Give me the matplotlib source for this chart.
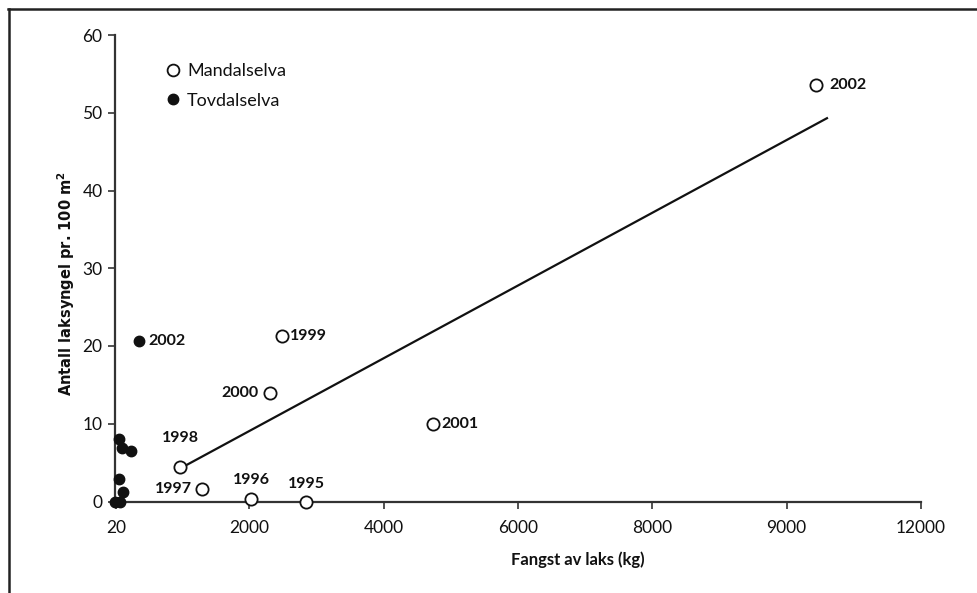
import matplotlib
matplotlib.use("Agg")
import matplotlib.pyplot as plt
from matplotlib.lines import Line2D

# Mandalselva: catch (kg) vs. salmon fry density per 100 m2
mandal_years = ["1995", "1996", "1997", "1998", "1999", "2000", "2001", "2002"]
mandal_catch = [2850, 2030, 1290, 970, 2480, 2310, 4730, 10440]
mandal_density = [0.0, 0.3, 1.6, 4.5, 21.3, 13.9, 10.0, 53.6]

# Tovdalselva
tovdal_catch = [60, 100, 240, 60, 124, 0, 75, 358]
tovdal_density = [8.1, 6.9, 6.5, 2.9, 1.2, 0.0, 0.0, 20.7]
tovdal_label_idx = 7
tovdal_label = "2002"

# Trend line for Mandalselva
trend_x = [1045, 10600]
trend_y = [4.6, 49.3]

x_ticks = [20, 2000, 4000, 6000, 8000, 10000, 12000]
x_ticklabels = ["20", "2000", "4000", "6000", "8000", "9000", "12000"]
y_ticks = [0, 10, 20, 30, 40, 50, 60]

# label placement (offset in pixels, horizontal alignment)
mandal_label_pos = {
    "1995": ((0, 18), "center"),
    "1996": ((0, 19), "center"),
    "1997": ((-10, 0), "right"),
    "1998": ((0, 29), "center"),
    "1999": ((8, 0), "left"),
    "2000": ((-12, 0), "right"),
    "2001": ((9, 0), "left"),
    "2002": ((13, 0), "left"),
}

W, H = 977, 593
fig = plt.figure(figsize=(W / 100, H / 100), dpi=100)
ax = fig.add_axes([115 / W, 1 - 501.5 / H, 806 / W, 466.5 / H])

ink = "#111111"
ax.plot(trend_x, trend_y, color=ink, lw=1.6, zorder=2)
ax.plot(tovdal_catch, tovdal_density, "o", ms=7.5, color=ink, mec=ink,
        clip_on=False, zorder=3)
ax.plot(mandal_catch, mandal_density, "o", ms=8.8, mfc="white", mec=ink,
        mew=1.3, clip_on=False, zorder=4)

lab_font = dict(family="Lato", fontsize=11.5, fontweight="bold", color=ink)
for yr, xv, yv in zip(mandal_years, mandal_catch, mandal_density):
    off, ha = mandal_label_pos[yr]
    ax.annotate(yr, (xv, yv), xytext=off, textcoords="offset pixels",
                ha=ha, va="center", **lab_font)
ax.annotate(tovdal_label, (tovdal_catch[tovdal_label_idx], tovdal_density[tovdal_label_idx]),
            xytext=(9, 0), textcoords="offset pixels", ha="left", va="center",
            **lab_font)

ax.set_xlim(0, 12000)
ax.set_ylim(0, 60)
ax.set_xticks(x_ticks)
ax.set_xticklabels(x_ticklabels)
ax.set_yticks(y_ticks)
for sp in ("top", "right"):
    ax.spines[sp].set_visible(False)
for sp in ("left", "bottom"):
    ax.spines[sp].set_linewidth(1.6)
    ax.spines[sp].set_color("#333333")
ax.tick_params(direction="out", length=5, width=1.2, color="#333333",
               labelsize=12.5, pad=4)
ax.tick_params(axis="x", pad=8)
for t in ax.get_xticklabels() + ax.get_yticklabels():
    t.set_family("Lato")
    t.set_color(ink)

# legend
handles = [
    Line2D([], [], ls="none", marker="o", ms=8.5, mfc="white", mec=ink, mew=1.3),
    Line2D([], [], ls="none", marker="o", ms=7.5, color=ink),
]
leg = ax.legend(handles, ["Mandalselva", "Tovdalselva"], loc="upper left",
                bbox_to_anchor=((160 - 115) / 806, (501.5 - 56) / 466.5),
                frameon=False, handlelength=0.6, handletextpad=0.5,
                labelspacing=0.75, borderaxespad=0,
                prop=dict(family="Lato", size=13))
for t in leg.get_texts():
    t.set_color(ink)

fig.text(66 / W, 1 - 284 / H, "Antall laksyngel pr. 100 m$^\\mathbf{2}$",
         rotation=90, ha="center", va="center", family="DejaVu Sans",
         fontweight="bold", fontsize=10.5, color=ink)
fig.text(578 / W, 1 - 560 / H, "Fangst av laks (kg)", ha="center", va="center",
         family="Lato", fontweight="bold", fontsize=12, color=ink)

# frame lines along the top and left edge
fig.add_artist(Line2D([8 / W, 1.0], [1 - 8.5 / H, 1 - 8.5 / H],
                      transform=fig.transFigure, color="#222222", lw=1.8))
fig.add_artist(Line2D([8.5 / W, 8.5 / W], [0, 1 - 8.5 / H],
                      transform=fig.transFigure, color="#222222", lw=1.8))

fig.savefig("out.png", dpi=100, facecolor="white")
